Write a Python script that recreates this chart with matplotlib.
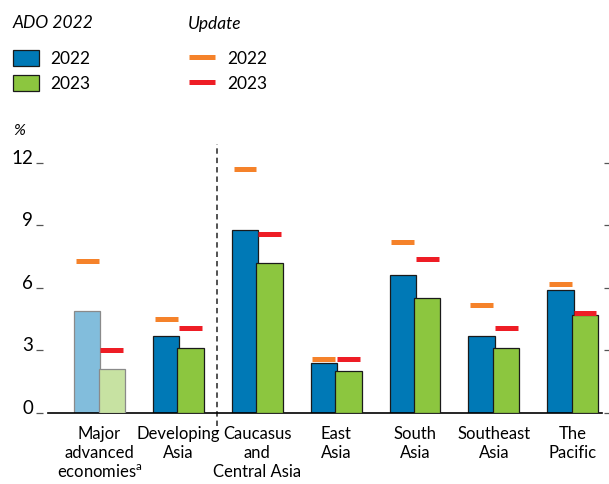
import numpy as np
import matplotlib
matplotlib.use("Agg")
import matplotlib.pyplot as plt
from matplotlib.patches import Rectangle
from matplotlib.lines import Line2D

plt.rcParams['font.family'] = ['Lato', 'DejaVu Sans']
plt.rcParams['mathtext.fontset'] = 'custom'
plt.rcParams['mathtext.rm'] = 'Lato'

# data (inflation, %)
regions = ["Major\nadvanced\neconomies$^{\\mathrm{a}}$", "Developing\nAsia", "Caucasus\nand\nCentral Asia",
           "East\nAsia", "South\nAsia", "Southeast\nAsia", "The\nPacific"]
ado_2022 = [4.9, 3.7, 8.8, 2.4, 6.6, 3.7, 5.9]
ado_2023 = [2.1, 3.1, 7.2, 2.0, 5.5, 3.1, 4.7]
upd_2022 = [7.3, 4.5, 11.7, 2.6, 8.2, 5.2, 6.2]
upd_2023 = [3.0, 4.1, 8.6, 2.6, 7.4, 4.1, 4.8]
yticks = [0, 3, 6, 9, 12]

blue, green = '#0079B6', '#8CC63F'
light_blue, light_green = '#82BDDC', '#C7E2A2'
orange, red = '#F5822A', '#EE1D25'

fig = plt.figure(figsize=(6.09, 4.85), dpi=100)
ax = fig.add_axes([48/609, 71/485, 554/609, 269/485])

x = np.arange(len(regions))
w, off = 0.335, 0.155
b_cols = [light_blue] + [blue] * (len(x) - 1)
g_cols = [light_green] + [green] * (len(x) - 1)
e_cols = ['#8a8a8a'] + ['#1a1a1a'] * (len(x) - 1)

ax.bar(x - off, ado_2022, width=w, color=b_cols, edgecolor=e_cols, linewidth=0.9, zorder=2)
ax.bar(x + off, ado_2023, width=w, color=g_cols, edgecolor=e_cols, linewidth=0.9, zorder=3)

mw = 0.29
ax.hlines(upd_2022, x - off - mw/2, x - off + mw/2, colors=orange, linewidth=3.6, zorder=4)
ax.hlines(upd_2023, x + off - mw/2, x + off + mw/2, colors=red, linewidth=3.6, zorder=4)

# divider between advanced economies and developing Asia
ax.plot([1.49, 1.49], [-0.6, 12.91], color='#444444', lw=1.3, ls=(0, (3, 2.2)), clip_on=False, zorder=1)

for s in ['top', 'left', 'right']:
    ax.spines[s].set_color('none')
ax.spines['left'].set_position(('outward', 3.6))
ax.spines['right'].set_position(('outward', 1.2))
ax.spines['bottom'].set_linewidth(1.2)
ax.tick_params(axis='x', length=0, pad=9, labelsize=12)
ax.tick_params(axis='y', which='both', left=True, right=True, length=5, width=0.9,
               color='#555555', pad=2, labelsize=13.5, labelright=False)

ax.set_xlim(-0.653, 6.37)
ax.set_ylim(0, 12.91)
ax.set_xticks(x)
ax.set_xticklabels(regions, linespacing=1.2)
ax.set_yticks(yticks)
ax.set_yticklabels([str(t) for t in yticks])
for t in ax.yaxis.get_major_ticks():
    t.tick2line.set_color('#888888')
    t.tick2line.set_markersize(3.5)
    t.label1.set_verticalalignment('baseline')

fig.text(13/609, 1 - 131/485, '%', fontsize=11.5, style='italic', va='center')

# legend
fig.text(13/609, 1 - 23/485, 'ADO 2022', fontsize=12.5, style='italic', va='center')
fig.text(188/609, 1 - 24/485, 'Update', fontsize=12.5, style='italic', va='center')
for yy, c, lab in [(59, blue, '2022'), (84, green, '2023')]:
    fig.add_artist(Rectangle((13/609, 1 - (yy + 8)/485), 26/609, 16/485, facecolor=c,
                             edgecolor='#1a1a1a', linewidth=0.9, transform=fig.transFigure))
    fig.text(50/609, 1 - yy/485, lab, fontsize=12.5, va='center')
for yy, c, lab in [(58, orange, '2022'), (83, red, '2023')]:
    fig.add_artist(Line2D([189/609, 215/609], [1 - yy/485] * 2, color=c, lw=3.6,
                          solid_capstyle='butt', transform=fig.transFigure))
    fig.text(227/609, 1 - (yy + 1)/485, lab, fontsize=12.5, va='center')

fig.savefig('out.png', dpi=100)
